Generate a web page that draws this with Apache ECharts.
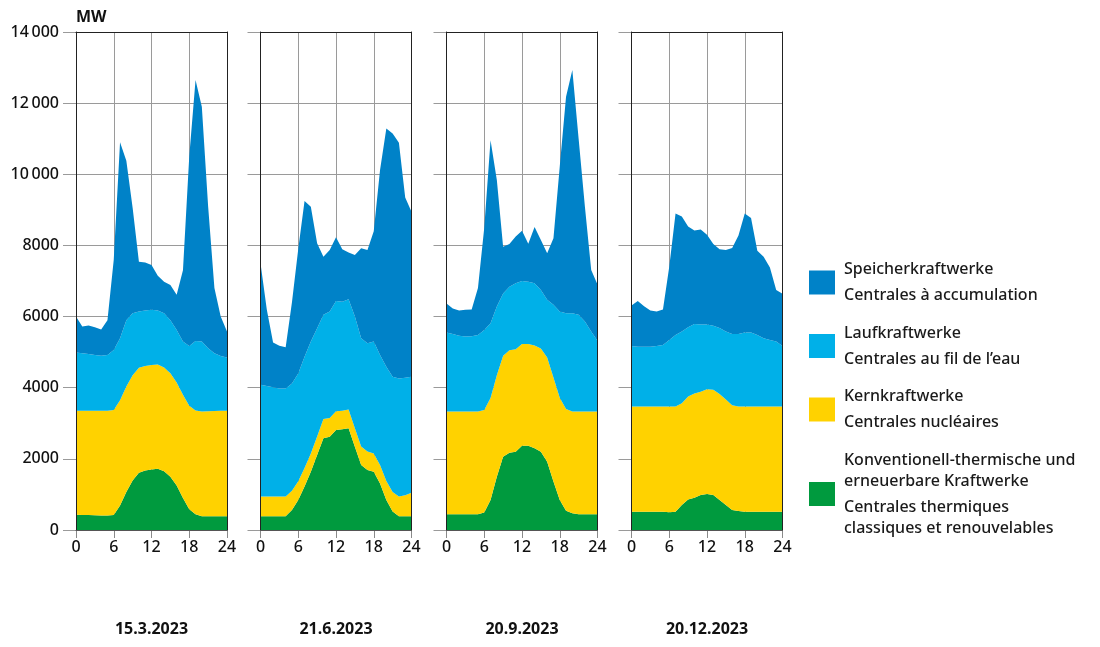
<!DOCTYPE html>
<html><head><meta charset="utf-8">
<script src="https://cdn.jsdelivr.net/npm/echarts@6/dist/echarts.min.js"></script>
<style>html,body{margin:0;padding:0;background:#fff}#c{width:1100px;height:647px}</style>
</head><body><div id="c"></div>
<script>
// ---- data (MW, hourly 0..24) ----
const hours = [0,1,2,3,4,5,6,7,8,9,10,11,12,13,14,15,16,17,18,19,20,21,22,23,24];
const xTickHours = [0,6,12,18,24];
const yTickValues = [0,2000,4000,6000,8000,10000,12000,14000];
const dates = ['15.3.2023','21.6.2023','20.9.2023','20.12.2023'];
const namesDe = ['Konventionell-thermische und\nerneuerbare Kraftwerke', 'Kernkraftwerke', 'Laufkraftwerke', 'Speicherkraftwerke'];
const namesFr = ['Centrales thermiques\nclassiques et renouvelables', 'Centrales nucléaires', 'Centrales au fil de l\u2019eau', 'Centrales à accumulation'];

// 15.3.2023
const thermal_mar = [430,425,420,415,410,410,420,690,1065,1390,1610,1670,1700,1720,1650,1500,1250,900,580,440,390,390,390,390,390];
const nuclear_mar = [2920,2925,2930,2935,2940,2940,2950,2960,2970,2960,2950,2940,2940,2930,2920,2910,2900,2900,2910,2920,2940,2950,2955,2960,2960];
const river_mar   = [1640,1620,1600,1570,1550,1570,1690,1740,1865,1740,1580,1560,1550,1520,1520,1490,1470,1500,1680,1950,1970,1770,1625,1540,1500];
const storage_mar = [1010,750,800,780,740,980,2540,5510,4480,2970,1400,1350,1260,980,890,990,990,2000,5330,7340,6600,3990,1830,1110,730];
// 21.6.2023
const thermal_jun = [390,390,390,390,390,560,840,1220,1640,2110,2580,2620,2810,2830,2860,2340,1830,1690,1640,1310,840,520,390,390,390];
const nuclear_jun = [550,550,550,550,550,540,530,520,510,520,540,530,530,520,530,520,520,520,510,520,540,550,550,590,660];
const river_jun   = [3140,3110,3070,3040,3040,3020,3030,3130,3150,3040,2930,2990,3100,3070,3100,3140,3040,3040,3150,3090,3210,3240,3320,3300,3260];
const storage_jun = [3420,2150,1260,1200,1160,2280,3500,4380,3790,2390,1630,1730,1790,1470,1310,1730,2530,2620,3100,5200,6700,6840,6630,5070,4640];
// 20.9.2023
const thermal_sep = [440,440,440,440,440,440,490,840,1500,2060,2170,2200,2370,2370,2300,2200,1920,1360,840,540,470,440,440,440,440];
const nuclear_sep = [2890,2890,2890,2890,2890,2890,2880,2870,2850,2840,2880,2880,2860,2860,2890,2900,2930,2930,2880,2860,2860,2890,2890,2890,2890];
const river_sep   = [2220,2180,2130,2110,2120,2150,2250,2100,1930,1750,1790,1860,1770,1750,1750,1650,1620,2040,2420,2690,2760,2720,2530,2250,1990];
const storage_sep = [820,720,710,750,750,1320,2880,5150,3560,1310,1200,1310,1410,1070,1580,1400,1310,1870,4080,6090,6840,4950,3230,1730,1580];
// 20.12.2023
const thermal_dec = [515,510,510,510,510,510,500,515,700,860,910,985,1010,985,840,700,560,535,515,515,515,515,515,515,515];
const nuclear_dec = [2955,2960,2960,2960,2960,2960,2970,2955,2860,2890,2930,2905,2950,2955,2980,2970,2950,2935,2955,2955,2955,2955,2955,2955,2955];
const river_dec   = [1700,1680,1680,1680,1700,1730,1870,2010,2020,1950,1950,1890,1820,1800,1860,1910,2000,2040,2080,2080,2010,1920,1870,1830,1700];
const storage_dec = [1140,1290,1140,1020,970,1000,2060,3420,3230,2830,2630,2670,2520,2300,2210,2290,2420,2770,3350,3220,2370,2290,2040,1450,1470];

const panels = [
  [thermal_mar, nuclear_mar, river_mar, storage_mar],
  [thermal_jun, nuclear_jun, river_jun, storage_jun],
  [thermal_sep, nuclear_sep, river_sep, storage_sep],
  [thermal_dec, nuclear_dec, river_dec, storage_dec]
];
const layerColors = ['#009a3e', '#ffd200', '#00b0e8', '#0082c8'];

// ---- layout ----
const FONT = 'Noto Sans';
const gridLefts = [76, 260.5, 446.5, 631.5];
const gridWidth = 151;
const gridTop = 32, gridHeight = 498;
const yMin = yTickValues[0], yMax = yTickValues[yTickValues.length-1], yStep = yTickValues[1]-yTickValues[0];
const isTick = (idx) => xTickHours.indexOf(hours[idx]) >= 0;

function fmtY(v){ const s = String(v); return s.length > 4 ? s.slice(0, -3) + '\u2009' + s.slice(-3) : s; }
function legendText(name){
  const k = namesDe.indexOf(name);
  const de = namesDe[k].split('\n').map(t => '{t|' + t + '}');
  const fr = namesFr[k].split('\n').map(t => '{t|' + t + '}');
  return de.join('\n') + '\n{sp| }\n' + fr.join('\n');
}

const grids = [], xAxes = [], yAxes = [], series = [];
panels.forEach((layers, i) => {
  grids.push({left: gridLefts[i], top: gridTop, width: gridWidth, height: gridHeight});
  const xb = xAxes.length;
  xAxes.push({
    gridIndex: i, type: 'category', data: hours.map(String), boundaryGap: false, position: 'bottom',
    axisLine: {show: false, onZero: false},
    axisTick: {show: true, length: 8, interval: isTick, lineStyle: {color: '#8a8a8a', width: 1}},
    axisLabel: {fontSize: 16, color: '#111', margin: 9, fontFamily: FONT, fontWeight: 500, interval: isTick},
    splitLine: {show: true, interval: isTick, lineStyle: {color: '#9a9a9a', width: 1}},
    name: dates[i], nameLocation: 'middle', nameGap: 91,
    nameTextStyle: {fontSize: 16, color: '#111', fontWeight: 'bold', fontFamily: FONT}
  });
  xAxes.push({gridIndex: i, type: 'value', min: 0, max: 24, position: 'bottom', z: 10,
    axisLine: {show: true, onZero: false, lineStyle: {color: '#555', width: 1}},
    axisTick: {show: false}, axisLabel: {show: false}, splitLine: {show: false}});
  xAxes.push({gridIndex: i, type: 'value', min: 0, max: 24, position: 'top', z: 10,
    axisLine: {show: true, onZero: false, lineStyle: {color: '#222', width: 1}},
    axisTick: {show: false}, axisLabel: {show: false}, splitLine: {show: false}});
  const yb = yAxes.length;
  yAxes.push({
    gridIndex: i, type: 'value', min: yMin, max: yMax, interval: yStep, position: 'left',
    axisLine: {show: false, onZero: false},
    axisTick: {show: true, length: 13, lineStyle: {color: '#9a9a9a', width: 1}},
    axisLabel: {show: i === 0, fontSize: 16, color: '#111', margin: 17, fontFamily: FONT, fontWeight: 500, formatter: fmtY},
    splitLine: {show: true, lineStyle: {color: '#9a9a9a', width: 1}},
    name: i === 0 ? 'MW' : '', nameLocation: 'end', nameGap: 7,
    nameTextStyle: {fontSize: 16, color: '#111', fontWeight: 'bold', align: 'left', fontFamily: FONT}
  });
  yAxes.push({gridIndex: i, type: 'value', min: yMin, max: yMax, position: 'left', z: 10,
    axisLine: {show: true, onZero: false, lineStyle: {color: '#222', width: 1}},
    axisTick: {show: false}, axisLabel: {show: false}, splitLine: {show: false}});
  yAxes.push({gridIndex: i, type: 'value', min: yMin, max: yMax, position: 'right', z: 10,
    axisLine: {show: true, onZero: false, lineStyle: {color: '#222', width: 1}},
    axisTick: {show: false}, axisLabel: {show: false}, splitLine: {show: false}});
  layers.forEach((vals, k) => {
    series.push({
      name: namesDe[k], type: 'line', xAxisIndex: xb, yAxisIndex: yb,
      stack: 'p' + i, symbol: 'none', showSymbol: false, smooth: false,
      color: layerColors[k],
      itemStyle: {color: layerColors[k]},
      lineStyle: {width: 0, color: layerColors[k]},
      areaStyle: {color: layerColors[k], opacity: 1},
      data: vals.slice()
    });
  });
});

const chart = echarts.init(document.getElementById('c'), null, {renderer: 'canvas'});
chart.setOption({
  animation: false,
  backgroundColor: '#fff',
  textStyle: {fontFamily: FONT},
  grid: grids, xAxis: xAxes, yAxis: yAxes, series: series,
  legend: {
    orient: 'vertical', left: 809, top: 261.5, padding: 0, itemWidth: 26, itemHeight: 24, itemGap: 21.5,
    icon: 'rect', selectedMode: false,
    data: [namesDe[3], namesDe[2], namesDe[1], namesDe[0]],
    formatter: legendText,
    textStyle: {fontSize: 16, color: '#1a1a1a', fontFamily: FONT, fontWeight: 500, padding: [0,0,0,4],
      rich: {
        t: {fontSize: 16, lineHeight: 21, color: '#1a1a1a', fontFamily: FONT, fontWeight: 500},
        sp: {fontSize: 2, lineHeight: 5}
      }}
  }
});
</script></body></html>
